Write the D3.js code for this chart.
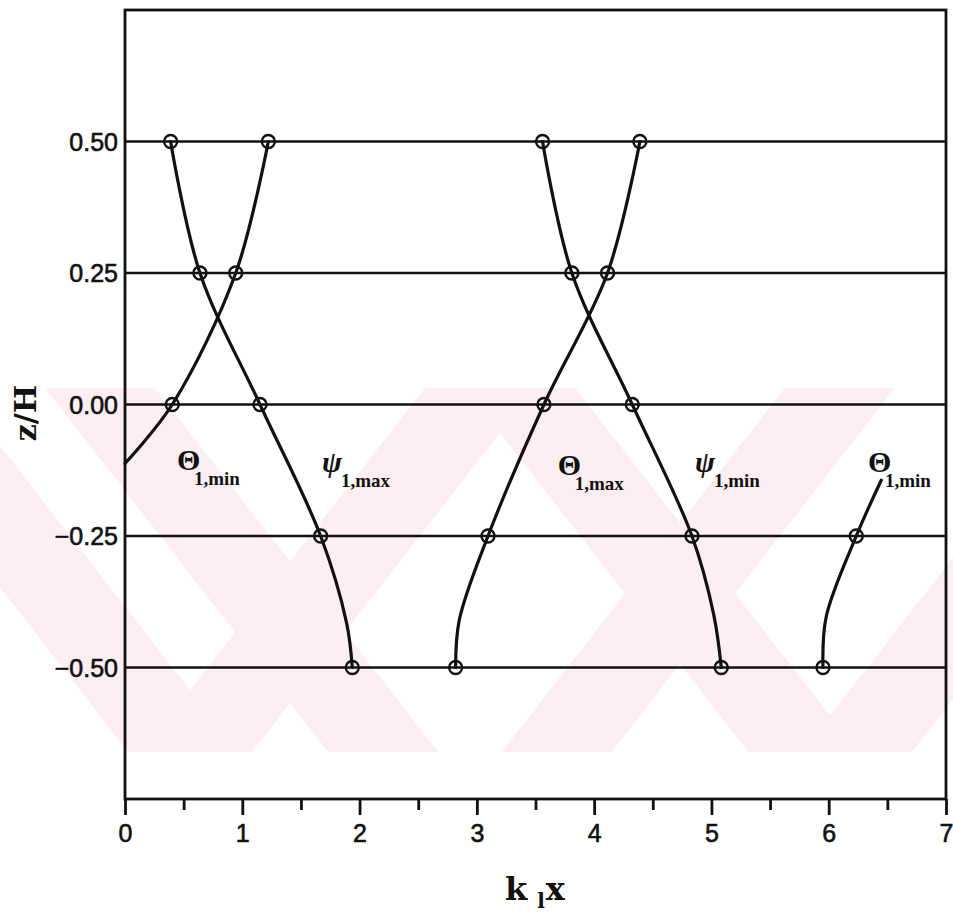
<!DOCTYPE html>
<html>
<head>
<meta charset="utf-8">
<script src="https://cdn.jsdelivr.net/npm/d3@7"></script>
<style>
body{margin:0;background:#fff}
svg{display:block}
</style>
</head>
<body>
<svg width="953" height="918"></svg>
<script>
var X_TICKS = [0, 1, 2, 3, 4, 5, 6, 7];
var X_MINOR = [0.5, 1.5, 2.5, 3.5, 4.5, 5.5, 6.5];
var Z_LEVELS = [0.50, 0.25, 0.00, -0.25, -0.50];
var Z_LABELS = ["0.50", "0.25", "0.00", "\u22120.25", "\u22120.50"];

// curves, [k1x, z/H]
var THETA_MIN_L = [[0, -0.112], [0.403, 0], [0.944, 0.25], [1.222, 0.5]];
var PSI_MAX = [[1.938, -0.5], [1.89, -0.416], [1.668, -0.25], [1.151, 0], [0.639, 0.25], [0.389, 0.5]];
var THETA_MAX = [[2.819, -0.5], [2.85, -0.41], [3.095, -0.25], [3.572, 0], [4.114, 0.25], [4.39, 0.5]];
var PSI_MIN = [[5.084, -0.5], [5.02, -0.40], [4.834, -0.25], [4.325, 0], [3.81, 0.25], [3.56, 0.5]];
var THETA_MIN_R = [[5.951, -0.5], [5.979, -0.403], [6.235, -0.25], [6.448, -0.144]];

var CURVES = [THETA_MIN_L, PSI_MAX, THETA_MAX, PSI_MIN, THETA_MIN_R];

// labels: symbol, subscript, k1x, z/H of baseline
var LABEL_SYM = ["\u0398", "\u03c8", "\u0398", "\u03c8", "\u0398"];
var LABEL_SUB = ["1,min", "1,max", "1,max", "1,min", "1,min"];
var LABEL_X = [0.443, 1.68, 3.69, 4.86, 6.334];
var LABEL_Z = [-0.125, -0.128, -0.134, -0.128, -0.128];

var svg = d3.select("svg");
var x = d3.scaleLinear().domain([0, 7]).range([125, 946]);
var y = d3.scaleLinear().domain([-0.75, 0.75]).range([799, 10]);

// faint pink watermark band behind the plot (scan artefact, rough)
var wm = svg.append("g").attr("clip-path", "url(#wmclip)");
svg.append("clipPath").attr("id", "wmclip")
	.append("rect").attr("x", 0).attr("y", 388).attr("width", 953).attr("height", 364);
var bands = [
	[[0, 330], [110, 330], [460, 780], [350, 780]],
	[[-200, 330], [-90, 330], [260, 780], [150, 780]],
	[[120, 780], [230, 780], [580, 330], [470, 330]],
	[[420, 330], [530, 330], [880, 780], [770, 780]],
	[[480, 780], [590, 780], [940, 330], [830, 330]],
	[[780, 780], [890, 780], [1240, 330], [1130, 330]]
];
wm.selectAll("polygon").data(bands).enter().append("polygon")
	.attr("points", function(d){ return d.map(function(p){ return p.join(","); }).join(" "); })
	.attr("fill", "#fdeef1");

// grid lines at the z levels
svg.append("g").selectAll("line").data(Z_LEVELS).enter().append("line")
	.attr("x1", x(0)).attr("x2", x(7))
	.attr("y1", function(d){ return y(d); }).attr("y2", function(d){ return y(d); })
	.attr("stroke", "#111").attr("stroke-width", 2.4);

// frame
svg.append("rect").attr("x", x(0)).attr("y", y(0.75))
	.attr("width", x(7) - x(0)).attr("height", y(-0.75) - y(0.75))
	.attr("fill", "none").attr("stroke", "#111").attr("stroke-width", 2.8);

// bottom axis
var xAxis = d3.axisBottom(x).tickValues(X_TICKS).tickSize(16).tickPadding(9).tickFormat(d3.format("d"));
var gx = svg.append("g").attr("transform", "translate(0," + y(-0.75) + ")").call(xAxis);
gx.select(".domain").remove();
gx.selectAll("line").attr("stroke", "#111").attr("stroke-width", 2.8);
gx.selectAll("text").attr("font-family", "Liberation Sans, Arial, sans-serif")
	.attr("font-size", 25).attr("fill", "#111").attr("stroke", "#111").attr("stroke-width", 0.6);
var gm = svg.append("g").attr("transform", "translate(0," + y(-0.75) + ")")
	.call(d3.axisBottom(x).tickValues(X_MINOR).tickSize(11).tickFormat(""));
gm.select(".domain").remove();
gm.selectAll("line").attr("stroke", "#111").attr("stroke-width", 2.8);

// left labels
svg.append("g").selectAll("text").data(Z_LEVELS).enter().append("text")
	.attr("x", 118).attr("y", function(d){ return y(d); }).attr("dy", "0.36em")
	.attr("text-anchor", "end")
	.attr("font-family", "Liberation Sans, Arial, sans-serif").attr("font-size", 25)
	.attr("fill", "#111").attr("stroke", "#111").attr("stroke-width", 0.6)
	.text(function(d, i){ return Z_LABELS[i]; });

// curves
var line = d3.line()
	.x(function(d){ return x(d[0]); })
	.y(function(d){ return y(d[1]); })
	.curve(d3.curveCatmullRom.alpha(0.5));
svg.append("g").selectAll("path").data(CURVES).enter().append("path")
	.attr("d", line).attr("fill", "none").attr("stroke", "#111").attr("stroke-width", 3.2)
	.attr("stroke-linejoin", "round").attr("stroke-linecap", "round");

// open circle markers only on the z levels
var marks = [];
CURVES.forEach(function(c){
	c.forEach(function(p){ if (Z_LEVELS.indexOf(p[1]) > -1) marks.push(p); });
});
svg.append("g").selectAll("circle").data(marks).enter().append("circle")
	.attr("cx", function(d){ return x(d[0]); }).attr("cy", function(d){ return y(d[1]); })
	.attr("r", 6.5).attr("fill", "none").attr("stroke", "#111").attr("stroke-width", 2.4);

// curve labels
var lab = svg.append("g").selectAll("g").data(LABEL_SYM).enter().append("g")
	.attr("transform", function(d, i){ return "translate(" + x(LABEL_X[i]) + "," + y(LABEL_Z[i]) + ")"; });
lab.append("text")
	.attr("font-family", "Liberation Serif, serif").attr("font-weight", "bold")
	.attr("font-style", function(d){ return d == "\u03c8" ? "italic" : "normal"; })
	.attr("font-size", 30).attr("fill", "#111")
	.text(function(d){ return d; });
lab.append("text")
	.attr("x", function(d){ return d == "\u03c8" ? 19 : 17; }).attr("y", 15)
	.attr("font-family", "Liberation Serif, serif").attr("font-weight", "bold")
	.attr("font-size", 19).attr("fill", "#111")
	.text(function(d, i){ return LABEL_SUB[i]; });

// axis titles
var xt = svg.append("text").attr("x", 505).attr("y", 900)
	.attr("font-family", "DejaVu Serif, serif").attr("font-weight", "bold")
	.attr("font-size", 32).attr("fill", "#111");
xt.append("tspan").text("k");
xt.append("tspan").attr("dx", 10).attr("dy", 8).attr("font-size", 20).text("l");
xt.append("tspan").attr("dx", 1).attr("dy", -8).text("x");

svg.append("text").attr("transform", "translate(36,413) rotate(-90)")
	.attr("text-anchor", "middle")
	.attr("font-family", "DejaVu Serif, serif").attr("font-weight", "bold")
	.attr("font-size", 30).attr("fill", "#111")
	.text("z/H");
</script>
</body>
</html>
